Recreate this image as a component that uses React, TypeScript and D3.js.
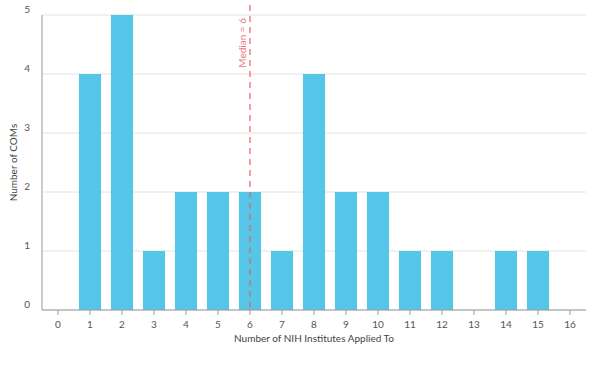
import React from 'react';
import * as d3 from 'd3';

const width = 600;
const height = 375;
const margin = {top: 15, right: 14, bottom: 65, left: 42};
const blue = '#55c6e8';
const red = '#ec5f67';
const grey = '#9a9a9a';

const institutes = [0, 1, 2, 3, 4, 5, 6, 7, 8, 9, 10, 11, 12, 13, 14, 15, 16];
const coms = [0, 4, 5, 1, 2, 2, 2, 1, 4, 2, 2, 1, 1, 0, 1, 1, 0];
const yTicks = [0, 1, 2, 3, 4, 5];
const median = 6;

const font = 'Lato, "Open Sans", sans-serif';

export default function App() {
  const x = d3.scaleBand<number>()
    .domain(institutes)
    .range([margin.left, width - margin.right])
    .paddingInner(0.31)
    .paddingOuter(0.155);
  const y = d3.scaleLinear().domain([0, 5]).range([height - margin.bottom, margin.top]);

  const bottom = height - margin.bottom;
  const center = (d: number) => (x(d) as number) + x.bandwidth() / 2;
  const mx = center(median);

  return (
    <svg width={width} height={height} style={{position: 'absolute', left: 0, top: 0}} fontFamily={font}>
      {yTicks.map(t => (
        <g key={t}>
          <line x1={margin.left} x2={width - margin.right} y1={y(t)} y2={y(t)} stroke='#e2e2e2' strokeWidth='1' />
          <text x={margin.left - 12} y={y(t)} dy='-0.2em' textAnchor='end' fontSize='10' fill='#555'>{t}</text>
        </g>
      ))}
      {institutes.map((d, i) => coms[i] > 0 && (
        <rect key={d} x={x(d)} y={y(coms[i])} width={x.bandwidth()} height={bottom - y(coms[i])} fill={blue} />
      ))}
      <line x1={margin.left} x2={margin.left} y1={margin.top} y2={bottom} stroke={grey} />
      <line x1={margin.left} x2={width - margin.right} y1={bottom} y2={bottom} stroke={grey} />
      {institutes.map(d => (
        <g key={d}>
          <line x1={center(d)} x2={center(d)} y1={bottom} y2={bottom + 5} stroke={grey} />
          <text x={center(d)} y={bottom + 18} textAnchor='middle' fontSize='10' fill='#555'>{d}</text>
        </g>
      ))}
      <line x1={mx} x2={mx} y1={5} y2={bottom} stroke={red} strokeWidth='1.2' strokeDasharray='6,5' />
      <text transform={`translate(${mx - 4},${18}) rotate(-90)`} textAnchor='end' fontSize='10' fill={red} opacity='0.85'>Median = 6</text>
      <text transform={`translate(17,${(margin.top + bottom) / 2}) rotate(-90)`} textAnchor='middle' fontSize='10' fill='#444'>Number of COMs</text>
      <text x={(margin.left + width - margin.right) / 2} y={bottom + 32} textAnchor='middle' fontSize='10' fill='#444'>Number of NIH Institutes Applied To</text>
    </svg>
  );
}
